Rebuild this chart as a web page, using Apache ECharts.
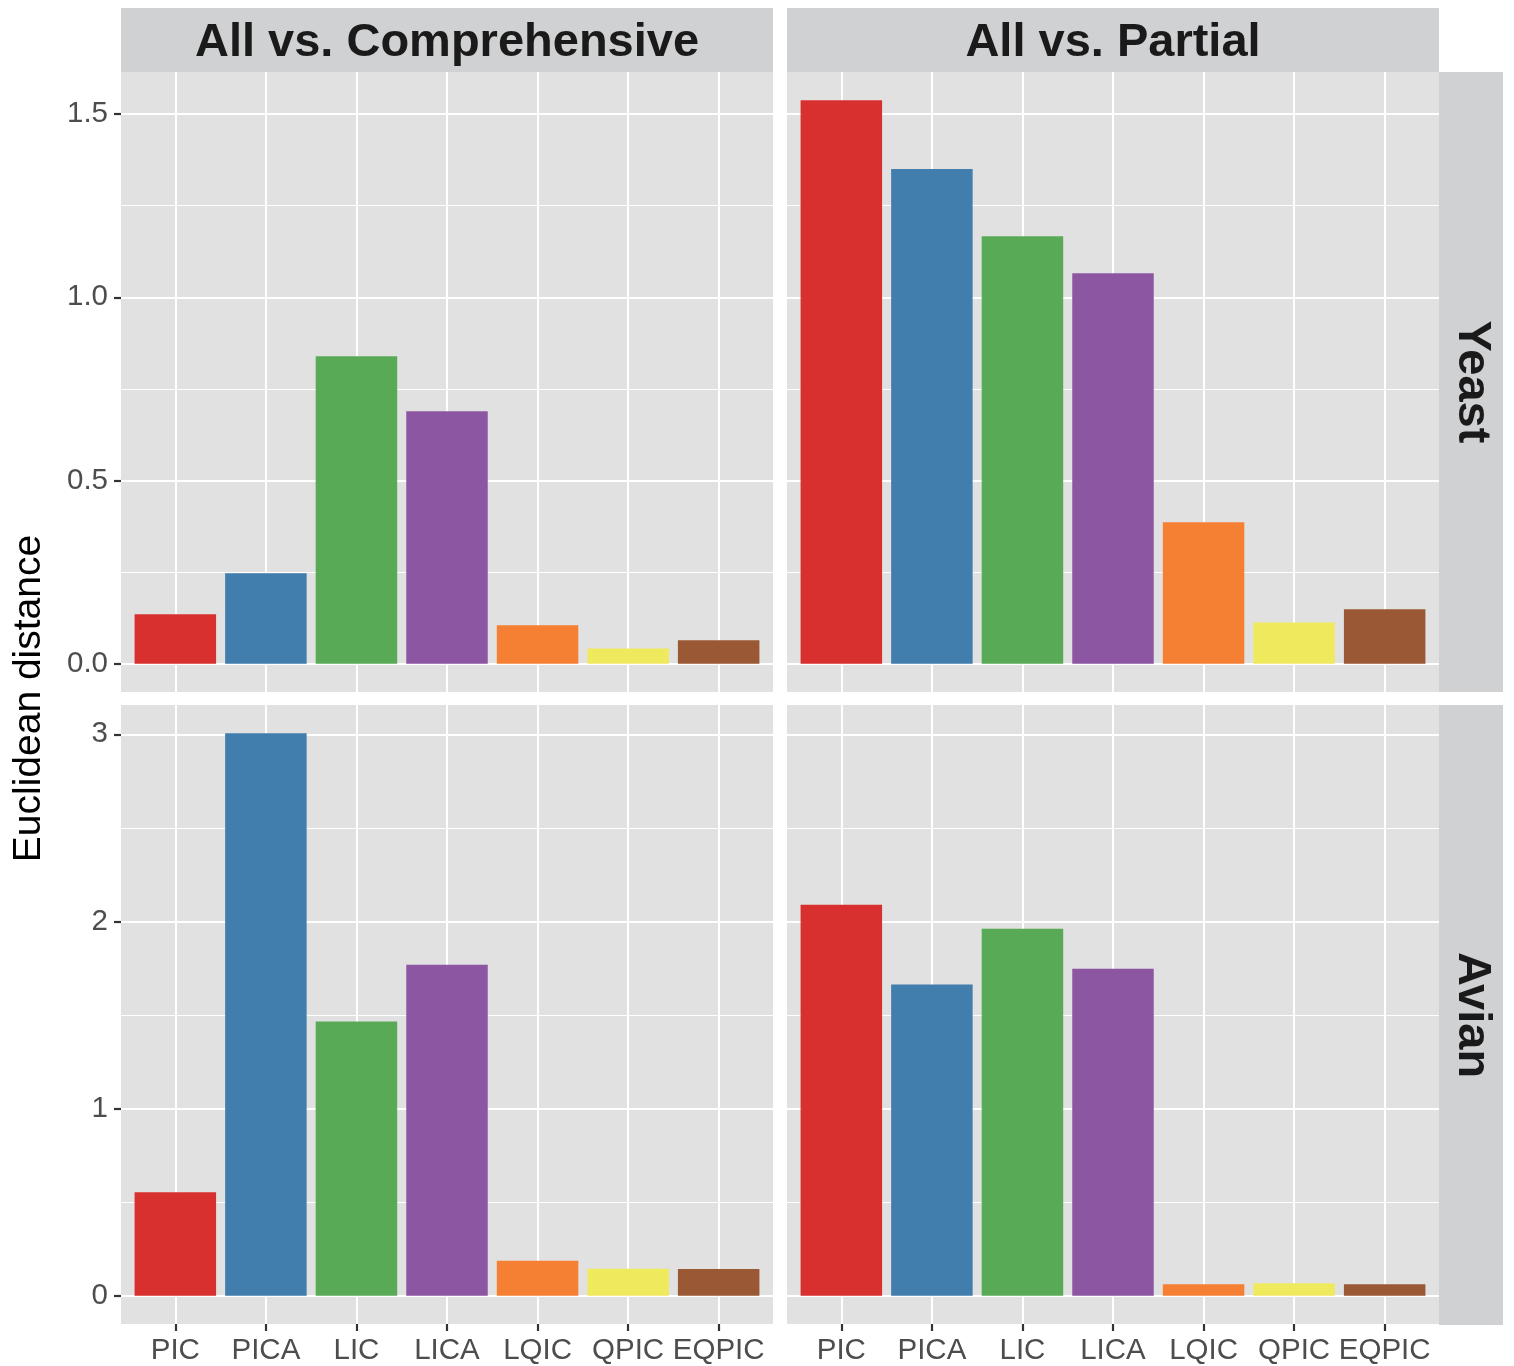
<!DOCTYPE html>
<html>
<head>
<meta charset="utf-8">
<title>Euclidean distance by information criterion</title>
<script src="https://cdn.jsdelivr.net/npm/echarts@6/dist/echarts.min.js"></script>
<style>
  html, body { margin: 0; padding: 0; background: #ffffff; }
  #chart { width: 1514px; height: 1366px; }
</style>
</head>
<body>
<div id="chart"></div>
<script>
// Criteria shown along the x axis of every panel
const categories = ['PIC', 'PICA', 'LIC', 'LICA', 'LQIC', 'QPIC', 'EQPIC'];
// Facet labels: columns (comparison) and rows (organism)
const comparisons = ['All vs. Comprehensive', 'All vs. Partial'];
const organisms = ['Yeast', 'Avian'];

// Euclidean distances, one array per panel
const yeastComprehensive = [0.135, 0.247, 0.839, 0.689, 0.105, 0.042, 0.064];
const yeastPartial       = [1.538, 1.350, 1.167, 1.066, 0.386, 0.113, 0.149];
const avianComprehensive = [0.554, 3.006, 1.465, 1.769, 0.187, 0.145, 0.144];
const avianPartial       = [2.089, 1.663, 1.961, 1.748, 0.062, 0.068, 0.062];

// Tick step and label decimals for each row's y axis
const yTickStep = [0.5, 1];
const yTickDecimals = [1, 0];

const axisTitle = 'Euclidean distance';

// Colour per criterion (Set1-like palette)
const barColors = ['#D8302E', '#417DAD', '#58AA57', '#8C56A2', '#F57F32', '#EFE95D', '#9B5834'];

const panelValues = [
  [yeastComprehensive, yeastPartial],
  [avianComprehensive, avianPartial]
];

const FONT = '"Liberation Sans", Arial, Helvetica, sans-serif';
const PANEL_BG = '#E1E1E1';
const STRIP_BG = '#D0D1D3';
const TICK_TEXT = '#4D4D4D';
const TICK_LINE = '#333333';

// Facet geometry
const colLeft = [121, 787];
const rowTop = [72, 705];
const panelW = 652;
const panelH = 620;
const stripSize = 64;

const chart = echarts.init(document.getElementById('chart'), null, { renderer: 'canvas' });

const grids = [], xAxes = [], yAxes = [], series = [];

for (let r = 0; r < 2; r++) {
  // rows share a y scale, padded 5% on both ends like the usual bar-chart expansion
  const rowMax = Math.max(...panelValues[r][0], ...panelValues[r][1]);
  const yMin = -0.05 * rowMax;
  const yMax = rowMax * 1.05;
  for (let c = 0; c < 2; c++) {
    const idx = grids.length;
    grids.push({
      left: colLeft[c], top: rowTop[r], width: panelW, height: panelH,
      show: true, backgroundColor: PANEL_BG, borderWidth: 0
    });
    xAxes.push({
      gridIndex: idx,
      type: 'value',
      position: 'bottom',
      min: -0.6,
      max: categories.length - 1 + 0.6,
      minInterval: 1,
      maxInterval: 1,
      axisLine: { show: false, onZero: false },
      axisTick: { show: r === 1, length: 7, lineStyle: { color: TICK_LINE, width: 2.2 } },
      axisLabel: {
        show: r === 1,
        showMinLabel: false,
        showMaxLabel: false,
        margin: 12,
        fontFamily: FONT,
        fontSize: 29.5,
        color: TICK_TEXT,
        formatter: v => (Number.isInteger(v) && categories[v] !== undefined) ? categories[v] : ''
      },
      splitLine: { show: true, showMinLine: false, showMaxLine: false, lineStyle: { color: '#ffffff', width: 2 } },
      minorTick: { show: false },
      minorSplitLine: { show: false }
    });
    yAxes.push({
      gridIndex: idx,
      type: 'value',
      position: 'left',
      min: yMin,
      max: yMax,
      minInterval: yTickStep[r],
      maxInterval: yTickStep[r],
      axisLine: { show: false, onZero: false },
      axisTick: { show: c === 0, length: 7, lineStyle: { color: TICK_LINE, width: 2.2 } },
      axisLabel: {
        show: c === 0,
        showMinLabel: false,
        showMaxLabel: false,
        margin: 13,
        fontFamily: FONT,
        fontSize: 29.5,
        color: TICK_TEXT,
        formatter: v => v.toFixed(yTickDecimals[r])
      },
      splitLine: { show: true, showMinLine: false, showMaxLine: false, lineStyle: { color: '#ffffff', width: 2 } },
      minorTick: { show: false, splitNumber: 2 },
      minorSplitLine: { show: true, lineStyle: { color: '#ffffff', width: 1 } }
    });
    series.push({
      type: 'custom',
      xAxisIndex: idx,
      yAxisIndex: idx,
      data: panelValues[r][c].map((v, k) => [k, v]),
      renderItem: (params, api) => {
        const k = api.value(0);
        const topLeft = api.coord([k - 0.45, api.value(1)]);
        const bottomRight = api.coord([k + 0.45, 0]);
        return {
          type: 'rect',
          shape: {
            x: topLeft[0], y: topLeft[1],
            width: bottomRight[0] - topLeft[0],
            height: bottomRight[1] - topLeft[1]
          },
          style: { fill: barColors[k] }
        };
      }
    });
  }
}

// Facet strips and the shared y-axis title
const graphics = [];
comparisons.forEach((label, c) => {
  graphics.push({
    type: 'rect',
    shape: { x: colLeft[c], y: rowTop[0] - stripSize, width: panelW, height: stripSize },
    style: { fill: STRIP_BG },
    silent: true
  });
  graphics.push({
    type: 'text',
    x: colLeft[c] + panelW / 2,
    y: rowTop[0] - stripSize / 2 + 3,
    style: {
      text: label, fill: '#1A1A1A', font: 'bold 47px ' + FONT,
      align: 'center', verticalAlign: 'middle'
    },
    silent: true
  });
});
organisms.forEach((label, r) => {
  const sx = colLeft[1] + panelW;
  graphics.push({
    type: 'rect',
    shape: { x: sx, y: rowTop[r], width: stripSize, height: panelH },
    style: { fill: STRIP_BG },
    silent: true
  });
  graphics.push({
    type: 'text',
    x: sx + stripSize / 2 + 1,
    y: rowTop[r] + panelH / 2,
    rotation: -Math.PI / 2,
    style: {
      text: label, fill: '#1A1A1A', font: 'bold 47px ' + FONT,
      align: 'center', verticalAlign: 'middle'
    },
    silent: true
  });
});
graphics.push({
  type: 'text',
  x: 29,
  y: (rowTop[0] + rowTop[1] + panelH) / 2,
  rotation: Math.PI / 2,
  style: {
    text: axisTitle, fill: '#000000', font: '39px ' + FONT,
    align: 'center', verticalAlign: 'middle'
  },
  silent: true
});

chart.setOption({
  animation: false,
  backgroundColor: '#ffffff',
  grid: grids,
  xAxis: xAxes,
  yAxis: yAxes,
  series: series,
  graphic: graphics
});
</script>
</body>
</html>
